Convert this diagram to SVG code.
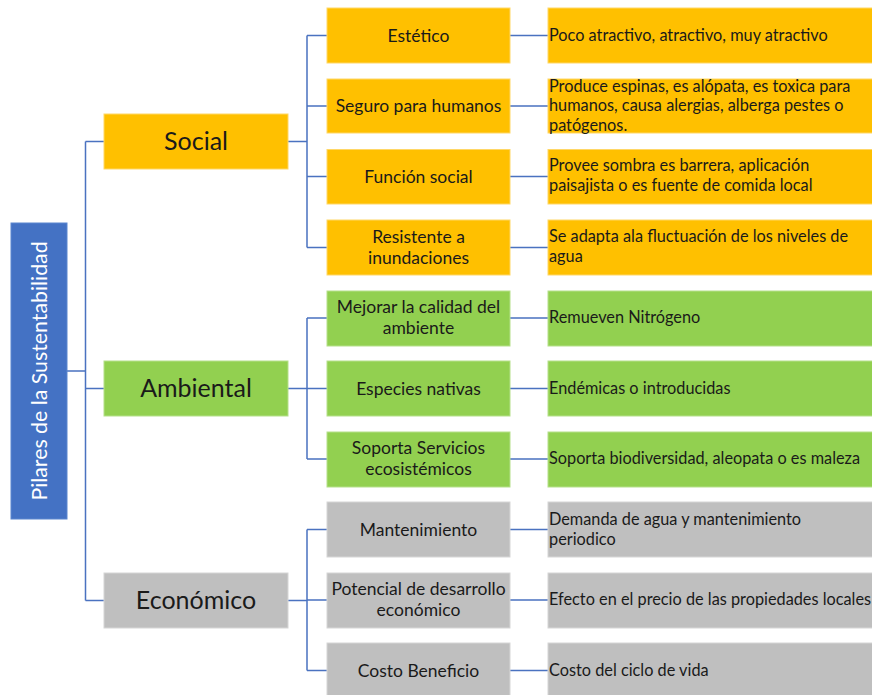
<svg xmlns="http://www.w3.org/2000/svg" width="872" height="695" viewBox="0 0 872 695">
<style>
text{font-family:Lato,"Open Sans","Liberation Sans",sans-serif;fill:#1a1a1a}
.root{fill:#4472C4;stroke:#5b86cf;stroke-width:1}
.y{fill:#FFC000;stroke:#ffd766;stroke-width:1}
.g{fill:#92D050;stroke:#b5e08a;stroke-width:1}
.s{fill:#BFBFBF;stroke:#d6d6d6;stroke-width:1}
.l1{font-size:25px;text-anchor:middle}
.l2{font-size:17.5px;text-anchor:middle}
.l3{font-size:16.3px}
.c path{fill:none;stroke:#4A72C0;stroke-width:1.5}
.rt{font-size:21.3px;fill:#ffffff;text-anchor:middle}
</style>
<g class="c" id="connectors">
<path d="M67 371H85.5M85.5 141.5V600.5M85.5 141.5H104M85.5 388.5H104M85.5 600.5H104"/>
<path d="M288 141.5H307M307 35.5V247.5M307 35.5H327M307 106H327M307 176.5H327M307 247.5H327"/>
<path d="M288 388.5H307M307 318H327M307 318V459M307 388.5H327M307 459H327"/>
<path d="M288 600.5H307M307 529.5V670.5M307 529.5H327M307 600H327M307 670.5H327"/>
<path d="M510 35.5H548M510 106H548M510 176.5H548M510 247.5H548M510 318H548M510 388.5H548M510 459H548M510 529.5H548M510 600H548M510 670.5H548"/>
</g>
<g id="root"><rect class="root" x="11" y="223" width="56" height="296"/><text class="rt" transform="translate(46.5 371) rotate(-90)">Pilares de la Sustentabilidad</text></g>
<g id="social"><rect class="y" x="104" y="114" width="184" height="55"/><text class="l1" x="196" y="150">Social</text></g>
<g id="ambiental"><rect class="g" x="104" y="361" width="184" height="55"/><text class="l1" x="196" y="397">Ambiental</text></g>
<g id="economico"><rect class="s" x="104" y="573" width="184" height="55"/><text class="l1" x="196" y="609">Económico</text></g>

<g id="estetico"><rect class="y" x="327" y="8" width="183" height="55"/><text class="l2" x="418.5" y="41.5">Estético</text></g>
<g id="seguro"><rect class="y" x="327" y="79" width="183" height="54"/><text class="l2" x="418.5" y="112">Seguro para humanos</text></g>
<g id="funcion"><rect class="y" x="327" y="149.5" width="183" height="54.5"/><text class="l2" x="418.5" y="182.5">Función social</text></g>
<g id="resistente"><rect class="y" x="327" y="220" width="183" height="55"/><text class="l2" x="418.5" y="243">Resistente a</text><text class="l2" x="418.5" y="264">inundaciones</text></g>
<g id="mejorar"><rect class="g" x="327" y="291" width="183" height="55"/><text class="l2" x="418.5" y="313">Mejorar la calidad del</text><text class="l2" x="418.5" y="334">ambiente</text></g>
<g id="especies"><rect class="g" x="327" y="361" width="183" height="55"/><text class="l2" x="418.5" y="394.5">Especies nativas</text></g>
<g id="soporta"><rect class="g" x="327" y="432" width="183" height="55"/><text class="l2" x="418.5" y="454">Soporta Servicios</text><text class="l2" x="418.5" y="475">ecosistémicos</text></g>
<g id="mantenimiento"><rect class="s" x="327" y="502" width="183" height="55"/><text class="l2" x="418.5" y="535.5">Mantenimiento</text></g>
<g id="potencial"><rect class="s" x="327" y="573" width="183" height="55"/><text class="l2" x="418.5" y="595">Potencial de desarrollo</text><text class="l2" x="418.5" y="616">económico</text></g>
<g id="costo"><rect class="s" x="327" y="643" width="183" height="55"/><text class="l2" x="418.5" y="676.5">Costo Beneficio</text></g>

<g id="d-estetico"><rect class="y" x="548" y="8" width="325" height="55"/><text class="l3" x="549" y="41">Poco atractivo, atractivo, muy atractivo</text></g>
<g id="d-seguro"><rect class="y" x="548" y="79" width="325" height="54"/><text class="l3" x="549" y="92">Produce espinas, es alópata, es toxica para</text><text class="l3" x="549" y="111">humanos, causa alergias, alberga pestes o</text><text class="l3" x="549" y="130.5">patógenos.</text></g>
<g id="d-funcion"><rect class="y" x="548" y="149.5" width="325" height="54.5"/><text class="l3" x="549" y="171">Provee sombra es barrera,  aplicación</text><text class="l3" x="549" y="191">paisajista o es fuente de comida local</text></g>
<g id="d-resistente"><rect class="y" x="548" y="220" width="325" height="55"/><text class="l3" x="549" y="242">Se adapta ala fluctuación de los niveles de</text><text class="l3" x="549" y="262">agua</text></g>
<g id="d-mejorar"><rect class="g" x="548" y="291" width="325" height="55"/><text class="l3" x="549" y="323">Remueven Nitrógeno</text></g>
<g id="d-especies"><rect class="g" x="548" y="361" width="325" height="55"/><text class="l3" x="549" y="394">Endémicas o introducidas</text></g>
<g id="d-soporta"><rect class="g" x="548" y="432" width="325" height="55"/><text class="l3" x="549" y="464">Soporta biodiversidad, aleopata o es maleza</text></g>
<g id="d-mantenimiento"><rect class="s" x="548" y="502" width="325" height="55"/><text class="l3" x="549" y="525">Demanda de agua y mantenimiento</text><text class="l3" x="549" y="545">periodico</text></g>
<g id="d-potencial"><rect class="s" x="548" y="573" width="325" height="55"/><text class="l3" x="549" y="605">Efecto en el precio de las propiedades locales</text></g>
<g id="d-costo"><rect class="s" x="548" y="643" width="325" height="55"/><text class="l3" x="549" y="676">Costo del ciclo de vida</text></g>
</svg>
